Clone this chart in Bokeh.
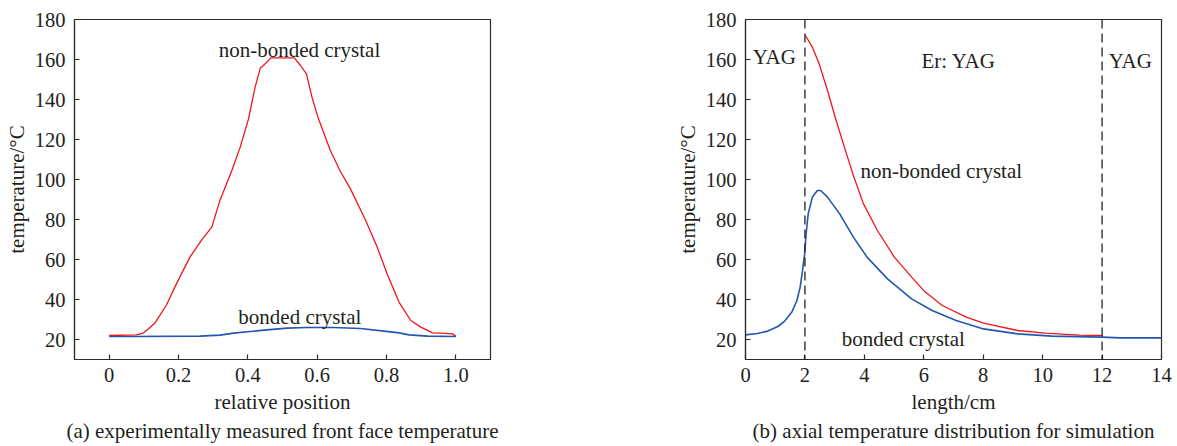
from bokeh.plotting import figure
from bokeh.layouts import row
from bokeh.models import FixedTicker, Label, Span, Title
from bokeh.embed import file_html
from bokeh.resources import INLINE

# ---------------- data ----------------
# (a) experimentally measured front face temperature
pos_nonbonded = [0.0, 0.079, 0.098, 0.113, 0.132, 0.166, 0.195, 0.233, 0.267, 0.296,
                 0.320, 0.354, 0.378, 0.402, 0.421, 0.436, 0.445, 0.467, 0.534, 0.552,
                 0.569, 0.585, 0.602, 0.638, 0.667, 0.696, 0.740, 0.773, 0.802, 0.836,
                 0.870, 0.899, 0.933, 0.957, 0.990, 1.0]
temp_nonbonded_a = [22.0, 22.3, 23.2, 25.3, 28.2, 37.5, 48.2, 61.2, 69.8, 76.2,
                    89.8, 104.5, 116.2, 130.3, 146.2, 155.7, 157.0, 160.8, 160.8, 157.0,
                    152.8, 141.2, 131.2, 114.5, 104.0, 95.3, 79.5, 66.2, 52.8, 38.7,
                    29.5, 26.2, 23.3, 23.2, 22.8, 21.7]
pos_bonded = [0.0, 0.069, 0.262, 0.320, 0.359, 0.407, 0.455, 0.513, 0.571, 0.648,
              0.725, 0.793, 0.836, 0.865, 0.918, 1.0]
temp_bonded_a = [21.5, 21.5, 21.7, 22.2, 23.2, 24.0, 24.8, 25.7, 26.0, 26.0,
                 25.5, 24.2, 23.3, 22.3, 21.7, 21.5]

# (b) axial temperature distribution for simulation
len_nonbonded = [2.016, 2.25, 2.48, 2.76, 3.05, 3.40, 3.63, 3.97, 4.44, 5.01,
                 5.59, 6.05, 6.62, 7.43, 8.01, 9.16, 10.08, 11.23, 12.0]
temp_nonbonded_b = [172.0, 166.2, 157.8, 144.5, 129.5, 112.8, 102.0, 87.8, 74.5, 61.2,
                    51.2, 43.7, 37.0, 31.2, 28.2, 24.5, 23.2, 22.2, 22.0]
len_bonded = [0.0, 0.40, 0.75, 1.09, 1.32, 1.56, 1.73, 1.84, 1.92, 1.99,
              2.04, 2.11, 2.25, 2.42, 2.53, 2.76, 3.17, 3.63, 4.09, 4.78,
              5.59, 6.28, 7.09, 8.01, 9.16, 10.31, 12.0, 12.6, 14.0]
temp_bonded_b = [22.3, 23.0, 24.2, 26.5, 29.2, 33.7, 39.5, 46.2, 54.5, 62.8,
                 72.8, 82.8, 91.2, 94.5, 94.5, 91.2, 82.8, 71.2, 61.2, 50.3,
                 40.3, 34.5, 29.5, 25.3, 22.8, 21.7, 21.2, 20.8, 20.8]
boundaries_b = [2, 12]

y_ticks = [20, 40, 60, 80, 100, 120, 140, 160, 180]
x_ticks_a = [0, 0.2, 0.4, 0.6, 0.8, 1.0]
x_tick_labels_a = ["0", "0.2", "0.4", "0.6", "0.8", "1.0"]
x_ticks_b = [0, 2, 4, 6, 8, 10, 12, 14]

# ---------------- style ----------------
FONT = "Liberation Serif"
TXT = "#231f20"
AX = "#2a2a2a"
RED = "#f0161c"
BLUE = "#2356b4"


def style(p, xlabel, caption):
    p.grid.visible = False
    p.outline_line_color = AX
    p.outline_line_width = 1.2
    for ax in (p.xaxis[0], p.yaxis[0]):
        ax.axis_line_color = AX
        ax.axis_line_width = 1.2
        ax.major_tick_line_color = AX
        ax.major_tick_line_width = 1.2
        ax.major_tick_in = 5
        ax.major_tick_out = 0
        ax.minor_tick_line_color = None
        ax.major_label_text_font = FONT
        ax.major_label_text_font_size = "20.5px"
        ax.major_label_text_color = TXT
        ax.axis_label_text_font = FONT
        ax.axis_label_text_font_size = "21px"
        ax.axis_label_text_font_style = "normal"
        ax.axis_label_text_color = TXT
    p.yaxis.ticker = FixedTicker(ticks=y_ticks)
    p.yaxis.major_label_standoff = 9
    p.yaxis.axis_label = "temperature/°C"
    p.yaxis.axis_label_standoff = 3
    p.xaxis.major_label_standoff = 8
    p.xaxis.axis_label = xlabel
    p.xaxis.axis_label_standoff = 5
    p.add_layout(Title(text=caption, align="center", text_font=FONT, text_font_size="21px",
                       text_font_style="normal", text_color=TXT, standoff=0), "below")


def label(p, x, y, text):
    p.add_layout(Label(x=x, y=y, text=text, text_font=FONT, text_font_size="21px",
                       text_color=TXT, text_align="center", text_baseline="alphabetic"))


# ---------------- (a) ----------------
p1 = figure(frame_width=416, frame_height=340, min_border_left=74, min_border_right=110,
            min_border_top=19, min_border_bottom=87, x_range=(-0.1, 1.1), y_range=(10, 180),
            output_backend="svg", toolbar_location=None)
style(p1, "relative position", "(a) experimentally measured front face temperature")
p1.xaxis.ticker = FixedTicker(ticks=x_ticks_a)
p1.xaxis.major_label_overrides = {t: s for t, s in zip(x_ticks_a, x_tick_labels_a)}
p1.line(pos_bonded, temp_bonded_a, line_color=BLUE, line_width=1.6)
p1.line(pos_nonbonded, temp_nonbonded_a, line_color=RED, line_width=1.3)
label(p1, 0.549, 165, "non-bonded crystal")
label(p1, 0.55, 31.2, "bonded crystal")

# ---------------- (b) ----------------
p2 = figure(frame_width=416, frame_height=340, min_border_left=145, min_border_right=16,
            min_border_top=19, min_border_bottom=87, x_range=(0, 14), y_range=(10, 180),
            output_backend="svg", toolbar_location=None)
style(p2, "length/cm", "(b) axial temperature distribution for simulation")
p2.xaxis.ticker = FixedTicker(ticks=x_ticks_b)
for b in boundaries_b:
    p2.add_layout(Span(location=b, dimension="height", line_color=TXT, line_width=1.3,
                       line_dash="9 5"))
p2.line(len_nonbonded, temp_nonbonded_b, line_color=RED, line_width=1.3)
p2.line(len_bonded, temp_bonded_b, line_color=BLUE, line_width=1.6)
label(p2, 0.97, 161.5, "YAG")
label(p2, 7.17, 159.5, "Er: YAG")
label(p2, 12.95, 159.5, "YAG")
label(p2, 6.59, 104.2, "non-bonded crystal")
label(p2, 5.31, 20.3, "bonded crystal")

layout = row(p1, p2)
open("out.html", "w").write(file_html(layout, INLINE))
